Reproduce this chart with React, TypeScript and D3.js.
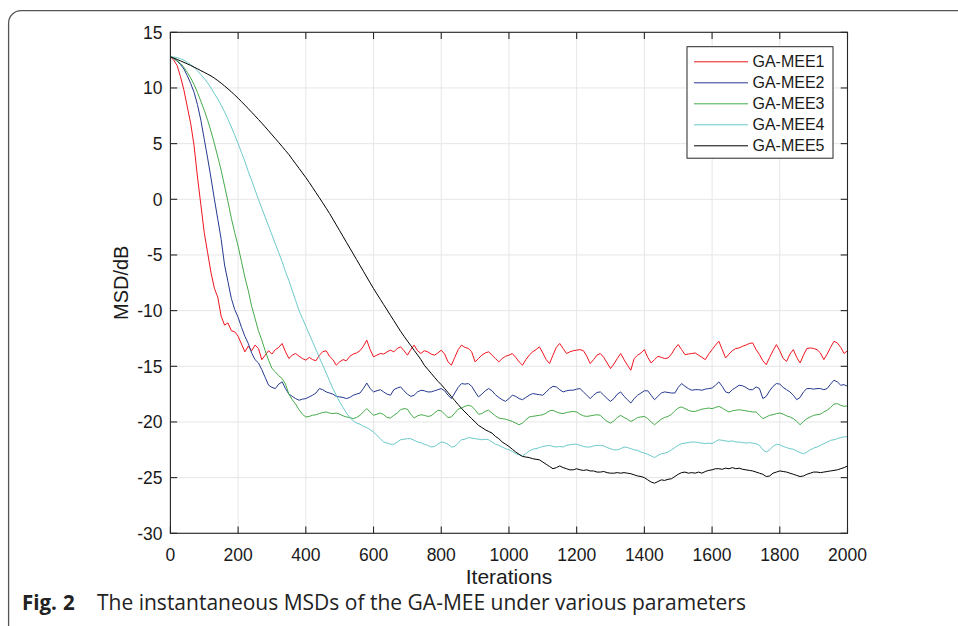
import React from "react";
import * as d3 from "d3";

const STEP = 10;
const X_TICKS = [0, 200, 400, 600, 800, 1000, 1200, 1400, 1600, 1800, 2000];
const Y_TICKS = [15, 10, 5, 0, -5, -10, -15, -20, -25, -30];
const SERIES_NAMES = ["GA-MEE1", "GA-MEE2", "GA-MEE3", "GA-MEE4", "GA-MEE5"];
const SERIES_COLORS = ["#f0141e", "#25398f", "#45ab4a", "#6cc9c9", "#000000"];

const mee1 = [
  12.8, 12.5, 12.0, 11.0, 9.8, 8.3, 6.8, 4.8, 2.0, -0.5, -3.0, -4.8, -6.6, -8.0, -8.8, -10.5, -11.3, -11.1, -11.8, -11.9, -12.3,
  -13.0, -13.7, -13.2, -13.6, -13.1, -13.4, -14.4, -14.0, -13.6, -13.9, -13.5, -13.3, -12.95, -13.7, -14.3, -14.0, -13.85, -14.1, -14.3, -14.45,
  -14.2, -14.4, -14.5, -14.0, -13.7, -13.6, -14.1, -14.4, -14.9, -14.6, -14.4, -14.5, -14.1, -13.9, -13.8, -13.6, -13.2, -12.65, -13.5, -14.15,
  -14.0, -13.85, -13.9, -13.7, -13.55, -13.7, -13.4, -13.25, -13.6, -14.0, -13.5, -13.1, -13.6, -13.85, -13.6, -13.7, -13.9, -14.0, -13.8, -13.55,
  -13.9, -14.6, -14.9, -14.2, -13.5, -13.1, -13.3, -13.4, -13.7, -14.6, -14.3, -14.0, -13.8, -13.7, -14.0, -14.3, -14.6, -14.3, -14.1, -14.0,
  -13.85, -14.2, -14.6, -14.9, -14.4, -14.0, -13.7, -13.5, -13.25, -13.8, -14.4, -14.75, -14.0, -13.3, -12.95, -13.4, -13.85, -13.7, -13.6, -13.55,
  -13.5, -13.6, -14.1, -14.75, -14.4, -14.0, -13.85, -14.2, -14.7, -15.2, -14.8, -14.3, -13.85, -14.4, -14.9, -15.35, -14.3, -14.0, -13.8, -13.5,
  -14.2, -14.7, -14.4, -14.1, -14.2, -14.3, -14.25, -13.9, -13.4, -13.05, -13.5, -13.95, -13.9, -13.85, -13.8, -14.0, -14.2, -14.4, -13.9, -13.5,
  -13.1, -12.75, -13.5, -14.25, -13.9, -13.6, -13.4, -13.35, -13.2, -13.1, -12.95, -12.9, -13.5, -13.95, -14.5, -14.85, -14.2, -13.6, -13.05, -13.6,
  -14.3, -14.55, -13.9, -13.5, -14.2, -14.7, -14.0, -13.4, -13.35, -13.4, -13.5, -13.8, -14.4, -13.9, -13.3, -12.75, -12.9, -13.3, -13.85, -13.6,
];

const mee2 = [
  12.8, 12.65, 12.4, 12.1, 11.7, 11.1, 10.4, 9.6, 8.5, 7.1, 5.4, 3.7, 1.9, 0.0, -1.8, -3.6, -5.9, -7.4, -8.9, -9.9, -10.6,
  -11.5, -12.3, -12.95, -13.8, -14.4, -14.7, -15.3, -16.0, -16.7, -16.9, -17.0, -16.6, -16.4, -17.0, -17.5, -17.7, -17.9, -18.05, -17.95, -17.9,
  -17.75, -17.6, -17.4, -17.0, -17.1, -17.3, -17.4, -17.5, -17.7, -17.75, -17.8, -17.9, -17.8, -17.6, -17.5, -17.4, -17.0, -16.5, -17.0, -17.3,
  -17.2, -17.1, -17.3, -17.5, -17.6, -17.1, -16.95, -16.85, -17.2, -17.5, -17.7, -17.6, -17.3, -17.15, -17.2, -17.3, -17.3, -17.2, -17.1, -17.0,
  -17.2, -17.6, -17.9, -17.4, -16.9, -16.55, -16.6, -16.55, -16.8, -17.3, -17.75, -17.5, -17.2, -17.0, -17.2, -17.55, -17.8, -18.0, -18.15, -17.9,
  -17.6, -17.7, -17.9, -18.0, -17.8, -17.6, -17.45, -17.5, -17.55, -17.6, -17.3, -17.0, -16.8, -16.85, -17.1, -17.3, -17.2, -17.15, -17.14, -17.05,
  -17.0, -17.3, -17.6, -17.9, -17.6, -17.35, -17.3, -17.6, -17.9, -18.15, -17.9, -17.5, -17.3, -17.7, -18.0, -18.3, -17.9, -17.6, -17.4, -17.2,
  -17.2, -17.6, -18.0, -17.7, -17.4, -17.3, -17.35, -17.4, -17.4, -16.9, -16.55, -16.8, -17.0, -17.15, -17.1, -17.1, -17.15, -17.05, -17.0, -16.95,
  -16.7, -16.4, -16.8, -17.3, -17.4, -17.1, -16.9, -16.7, -16.75, -16.9, -17.1, -17.1, -16.85, -17.0, -17.9, -17.7, -17.2, -16.8, -16.55, -16.6,
  -16.9, -17.1, -17.3, -17.6, -18.0, -17.8, -17.3, -17.0, -17.0, -17.05, -17.0, -17.0, -17.1, -17.0, -16.6, -16.25, -16.4, -16.7, -16.65, -16.8,
];

const mee3 = [
  12.8, 12.65, 12.45, 12.2, 11.85, 11.4, 10.9, 10.3, 9.6, 8.8, 8.0, 7.1, 6.1, 5.0, 3.8, 2.6, 1.2, -0.2, -1.7, -3.0, -4.2,
  -5.6, -7.0, -8.2, -9.6, -10.7, -11.8, -12.65, -13.6, -14.45, -15.2, -15.5, -15.85, -16.1, -16.6, -17.5, -18.0, -18.4, -18.9, -19.3, -19.55,
  -19.5, -19.4, -19.35, -19.25, -19.15, -19.1, -19.2, -19.25, -19.2, -19.3, -19.45, -19.55, -19.6, -19.7, -19.6, -19.4, -19.1, -18.8, -19.1, -19.4,
  -19.3, -19.2, -19.35, -19.6, -19.65, -19.4, -19.2, -18.9, -18.8, -18.85, -19.3, -19.65, -19.45, -19.35, -19.4, -19.5, -19.45, -19.2, -18.95, -19.0,
  -19.3, -19.6, -19.55, -19.2, -18.85, -18.75, -18.6, -18.5, -18.6, -18.9, -19.3, -19.25, -19.05, -18.95, -19.2, -19.45, -19.65, -19.7, -19.75, -19.85,
  -19.95, -20.1, -20.25, -20.1, -19.8, -19.55, -19.5, -19.45, -19.4, -19.35, -19.2, -19.0, -18.95, -19.1, -19.2, -19.25, -19.15, -19.1, -19.05, -19.1,
  -19.3, -19.45, -19.5, -19.45, -19.4, -19.35, -19.4, -19.7, -19.95, -20.1, -19.9, -19.6, -19.4, -19.6, -19.75, -19.95, -19.8, -19.6, -19.55, -19.5,
  -19.7, -20.0, -20.25, -20.0, -19.75, -19.6, -19.5, -19.3, -19.0, -18.75, -18.65, -18.8, -18.95, -19.05, -19.05, -18.95, -18.85, -18.8, -18.75, -18.8,
  -18.7, -18.6, -18.75, -18.95, -19.1, -19.0, -18.95, -18.9, -18.95, -19.0, -19.05, -19.1, -19.1, -19.4, -19.7, -19.55, -19.4, -19.35, -19.25, -19.2,
  -19.3, -19.45, -19.55, -19.7, -19.95, -20.25, -19.95, -19.7, -19.55, -19.4, -19.35, -19.3, -19.1, -18.95, -18.7, -18.4, -18.35, -18.5, -18.6, -18.55,
];

const mee4 = [
  12.8, 12.78, 12.72, 12.63, 12.49, 12.3, 12.1, 11.85, 11.55, 11.2, 10.85, 10.45, 10.0, 9.5, 9.0, 8.45, 7.85, 7.2, 6.5, 5.75, 5.0,
  4.2, 3.4, 2.5, 1.7, 0.85, 0.0, -0.8, -1.6, -2.4, -3.2, -4.0, -4.8, -5.6, -6.5, -7.3, -8.2, -9.1, -10.0, -10.7, -11.4,
  -12.1, -12.8, -13.5, -14.2, -14.9, -15.6, -16.3, -17.0, -17.6, -18.2, -18.7, -19.2, -19.6, -19.9, -20.1, -20.2, -20.4, -20.5, -20.7, -20.9,
  -21.2, -21.5, -21.8, -21.9, -22.0, -22.0, -21.8, -21.6, -21.55, -21.5, -21.5, -21.65, -21.8, -21.85, -22.0, -22.1, -22.25, -22.2, -22.0, -21.8,
  -21.85, -22.0, -22.25, -22.2, -21.9, -21.6, -21.55, -21.4, -21.45, -21.5, -21.55, -21.6, -21.55, -21.6, -21.8, -22.0, -22.1, -22.25, -22.4, -22.5,
  -22.65, -22.85, -22.95, -23.05, -22.85, -22.6, -22.45, -22.4, -22.3, -22.2, -22.15, -22.1, -22.2, -22.25, -22.2, -22.25, -22.1, -22.05, -22.0, -22.0,
  -22.1, -22.2, -22.25, -22.25, -22.15, -22.1, -22.1, -22.15, -22.3, -22.4, -22.5, -22.5, -22.4, -22.25, -22.3, -22.4, -22.5, -22.55, -22.7, -22.8,
  -22.9, -23.05, -23.2, -23.0, -22.85, -22.8, -22.7, -22.5, -22.3, -22.1, -21.95, -21.9, -21.85, -21.8, -21.8, -21.85, -21.9, -21.95, -21.9, -21.95,
  -21.75, -21.6, -21.65, -21.7, -21.75, -21.7, -21.8, -21.8, -21.85, -21.9, -21.85, -21.9, -21.95, -22.1, -22.5, -22.7, -22.5, -22.2, -22.0, -22.05,
  -22.2, -22.3, -22.4, -22.45, -22.6, -22.75, -22.85, -22.7, -22.5, -22.35, -22.25, -22.1, -21.95, -21.8, -21.65, -21.6, -21.5, -21.4, -21.35, -21.3,
];

const mee5 = [
  12.8, 12.68, 12.56, 12.43, 12.3, 12.16, 12.02, 11.87, 11.72, 11.56, 11.4, 11.24, 11.08, 10.88, 10.66, 10.43, 10.18, 9.92, 9.65, 9.37, 9.08,
  8.77, 8.46, 8.14, 7.82, 7.5, 7.17, 6.84, 6.5, 6.15, 5.8, 5.45, 5.1, 4.74, 4.38, 4.02, 3.6, 3.19, 2.78, 2.37, 1.95,
  1.52, 1.06, 0.6, 0.14, -0.32, -0.79, -1.27, -1.78, -2.3, -2.82, -3.34, -3.86, -4.38, -4.9, -5.42, -5.94, -6.46, -6.98, -7.5, -8.02,
  -8.5, -8.98, -9.46, -9.94, -10.42, -10.9, -11.38, -11.86, -12.3, -12.72, -13.14, -13.56, -13.98, -14.4, -14.9, -15.26, -15.62, -15.98, -16.34, -16.65,
  -17.0, -17.36, -17.72, -18.08, -18.44, -18.78, -19.1, -19.4, -19.7, -20.0, -20.3, -20.5, -20.7, -20.85, -21.0, -21.3, -21.5, -21.8, -22.0, -22.2,
  -22.45, -22.7, -22.9, -23.1, -23.15, -23.2, -23.3, -23.35, -23.4, -23.6, -23.8, -24.0, -24.2, -24.1, -23.95, -24.1, -24.2, -24.3, -24.3, -24.2,
  -24.3, -24.35, -24.3, -24.4, -24.4, -24.5, -24.5, -24.45, -24.55, -24.6, -24.6, -24.55, -24.6, -24.55, -24.6, -24.65, -24.75, -24.85, -24.9, -25.0,
  -25.2, -25.4, -25.5, -25.35, -25.2, -25.25, -25.15, -25.1, -24.9, -24.7, -24.55, -24.5, -24.6, -24.55, -24.6, -24.5, -24.6, -24.45, -24.35, -24.3,
  -24.2, -24.2, -24.25, -24.15, -24.2, -24.1, -24.2, -24.15, -24.25, -24.3, -24.35, -24.4, -24.5, -24.6, -24.7, -24.9, -24.85, -24.6, -24.5, -24.4,
  -24.45, -24.5, -24.6, -24.7, -24.8, -24.9, -24.85, -24.7, -24.6, -24.5, -24.5, -24.55, -24.5, -24.45, -24.4, -24.35, -24.3, -24.2, -24.1, -23.95,
];

const SERIES = [mee1, mee2, mee3, mee4, mee5];

const W = 958;
const H = 626;
const PL = 170.4;
const PR = 847.5;
const PT = 32.3;
const PB = 533.3;
const AXIS_FONT = "'Liberation Sans', Arial, Helvetica, sans-serif";
const CAPTION_FONT = "'Open Sans', 'Noto Sans', sans-serif";

export default function App() {
  const x = d3.scaleLinear().domain([0, 2000]).range([PL, PR]);
  const y = d3.scaleLinear().domain([-30, 15]).range([PB, PT]);
  const line = d3
    .line<number>()
    .x((_, i) => x(i * STEP))
    .y((d) => y(d));

  const tickLen = 6.8;
  const legX = 687;
  const legY = 46.7;
  const legW = 146;
  const legH = 111.5;
  const rowY = (i: number) => 61.8 + i * 21;

  return (
    <svg
      width={W}
      height={H}
      style={{ position: "absolute", left: 0, top: 0, background: "#fff" }}
    >
      <rect x={0} y={0} width={W} height={H} fill="#fff" />
      <path
        d={`M8.6,${H} L8.6,23 A12.5,12.5 0 0 1 21.1,10.6 L${W},10.6`}
        fill="none"
        stroke="#555"
        strokeWidth={1.3}
      />
      {X_TICKS.map((t) => (
        <line key={"gx" + t} x1={x(t)} x2={x(t)} y1={PT} y2={PB} stroke="#e6e6e6" strokeWidth={1} />
      ))}
      {Y_TICKS.map((t) => (
        <line key={"gy" + t} x1={PL} x2={PR} y1={y(t)} y2={y(t)} stroke="#e6e6e6" strokeWidth={1} />
      ))}
      {SERIES.map((s, i) => (
        <path key={"s" + i} d={line(s) || ""} fill="none" stroke={SERIES_COLORS[i]} strokeWidth={1} strokeLinejoin="round" />
      ))}
      <rect x={PL} y={PT} width={PR - PL} height={PB - PT} fill="none" stroke="#262626" strokeWidth={1.1} />
      {X_TICKS.map((t) => (
        <g key={"tx" + t}>
          <line x1={x(t)} x2={x(t)} y1={PB} y2={PB - tickLen} stroke="#262626" strokeWidth={1.1} />
          <line x1={x(t)} x2={x(t)} y1={PT} y2={PT + tickLen} stroke="#262626" strokeWidth={1.1} />
          <text x={x(t)} y={561} textAnchor="middle" fontFamily={AXIS_FONT} fontSize={17.5} fill="#1a1a1a">
            {t}
          </text>
        </g>
      ))}
      {Y_TICKS.map((t) => (
        <g key={"ty" + t}>
          <line x1={PL} x2={PL + tickLen} y1={y(t)} y2={y(t)} stroke="#262626" strokeWidth={1.1} />
          <line x1={PR} x2={PR - tickLen} y1={y(t)} y2={y(t)} stroke="#262626" strokeWidth={1.1} />
          <text x={162.5} y={y(t) + 6.3} textAnchor="end" fontFamily={AXIS_FONT} fontSize={17.5} fill="#1a1a1a">
            {t}
          </text>
        </g>
      ))}
      <text x={(PL + PR) / 2} y={584} textAnchor="middle" fontFamily={AXIS_FONT} fontSize={21} fill="#1a1a1a">
        Iterations
      </text>
      <text
        transform={`translate(127.5,${(PT + PB) / 2}) rotate(-90)`}
        textAnchor="middle"
        fontFamily={AXIS_FONT}
        fontSize={20}
        fill="#1a1a1a"
      >
        MSD/dB
      </text>
      <rect x={legX} y={legY} width={legW} height={legH} fill="#fff" stroke="#262626" strokeWidth={1} />
      {SERIES_NAMES.map((n, i) => (
        <g key={"l" + i}>
          <line x1={694} x2={748} y1={rowY(i)} y2={rowY(i)} stroke={SERIES_COLORS[i]} strokeWidth={1} />
          <text x={752.5} y={rowY(i) + 5.6} fontFamily={AXIS_FONT} fontSize={16} fill="#1a1a1a">
            {n}
          </text>
        </g>
      ))}
      <text x={22} y={610} fontFamily={CAPTION_FONT} fontSize={20.5} fill="#222" fontWeight="bold">
        Fig.<tspan dx={6}>2</tspan>
      </text>
      <text x={97} y={610} fontFamily={CAPTION_FONT} fontSize={21} fill="#222">
        The instantaneous MSDs of the GA-MEE under various parameters
      </text>
    </svg>
  );
}
